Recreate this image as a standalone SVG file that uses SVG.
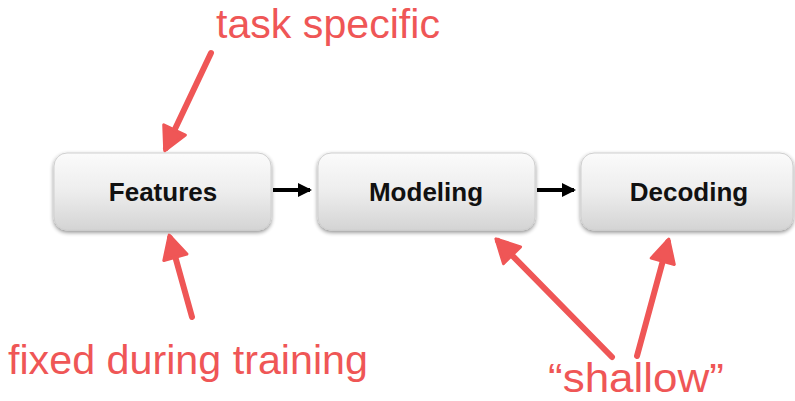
<svg xmlns="http://www.w3.org/2000/svg" width="795" height="401" viewBox="0 0 795 401">
<defs>
<linearGradient id="g" x1="0" y1="0" x2="0" y2="1">
<stop offset="0" stop-color="#fbfbfb"/>
<stop offset="0.5" stop-color="#ededed"/>
<stop offset="1" stop-color="#d4d4d4"/>
</linearGradient>
<filter id="sh" x="-10%" y="-10%" width="120%" height="130%">
<feGaussianBlur in="SourceAlpha" stdDeviation="2"/>
<feOffset dx="0" dy="2" result="b"/>
<feComponentTransfer><feFuncA type="linear" slope="0.45"/></feComponentTransfer>
<feMerge><feMergeNode/><feMergeNode in="SourceGraphic"/></feMerge>
</filter>
<marker id="ab" markerWidth="14" markerHeight="14" refX="12" refY="7" orient="auto" markerUnits="userSpaceOnUse">
<path d="M0,0 L14,7 L0,14 z" fill="#000"/>
</marker>
<marker id="ar" markerWidth="30" markerHeight="30" refX="22" refY="15" orient="auto" markerUnits="userSpaceOnUse">
<path d="M2,3 L25,15 L2,27 z" fill="#ef5656" stroke="#ef5656" stroke-width="3" stroke-linejoin="round"/>
</marker>
<style>
.box{fill:url(#g);stroke:#cfcfcf;stroke-width:1;filter:url(#sh)}
.lbl{font-family:"Liberation Sans",Arial,sans-serif;font-weight:bold;font-size:26px;fill:#111;text-anchor:middle}
.red{font-family:"Liberation Sans",Arial,sans-serif;font-size:41px;fill:#ef5656}
.ra{stroke:#ef5656;stroke-width:6;stroke-linecap:round;fill:none;marker-end:url(#ar)}
.ba{stroke:#000;stroke-width:4;fill:none;marker-end:url(#ab)}
</style>
</defs>
<g id="features"><rect class="box" x="54" y="153" width="217" height="77" rx="13"/><text class="lbl" x="163" y="201">Features</text></g>
<g id="modeling"><rect class="box" x="318" y="153" width="217" height="77" rx="13"/><text class="lbl" x="426" y="201">Modeling</text></g>
<g id="decoding"><rect class="box" x="581" y="153" width="212" height="77" rx="13"/><text class="lbl" x="689" y="201">Decoding</text></g>
<g id="connectors">
<line class="ba" x1="273" y1="190" x2="310" y2="190"/>
<line class="ba" x1="537" y1="190" x2="574" y2="190"/>
<line class="ra" x1="211" y1="53" x2="166" y2="148"/>
<line class="ra" x1="192" y1="317" x2="170" y2="238"/>
<line class="ra" x1="612" y1="357" x2="498" y2="241"/>
<line class="ra" x1="637" y1="356" x2="668" y2="242"/>
</g>
<text class="red" x="216" y="38" textLength="224" lengthAdjust="spacingAndGlyphs">task specific</text>
<text class="red" x="8" y="374" textLength="360" lengthAdjust="spacingAndGlyphs">fixed during training</text>
<text class="red" x="548" y="392" textLength="176" lengthAdjust="spacingAndGlyphs">“shallow”</text>
</svg>
